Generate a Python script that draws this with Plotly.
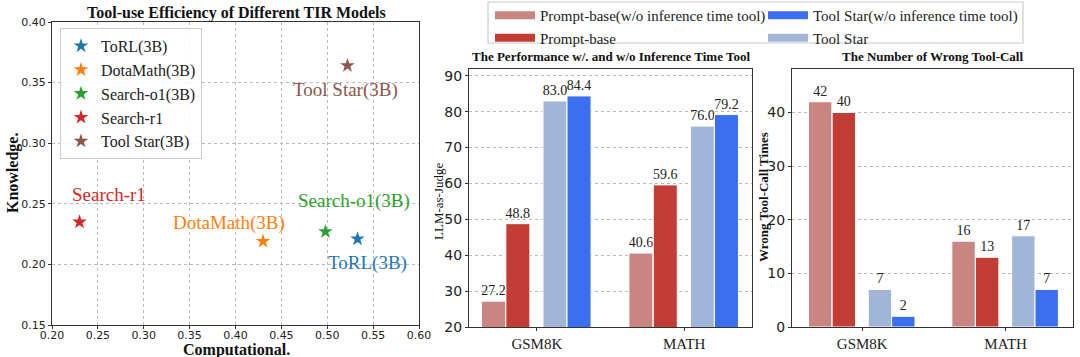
import plotly.graph_objects as go

# ---------------- data ----------------
models = ["ToRL(3B)", "DotaMath(3B)", "Search-o1(3B)", "Search-r1", "Tool Star(3B)"]
computational = [0.533, 0.430, 0.498, 0.230, 0.522]
knowledge = [0.221, 0.219, 0.227, 0.235, 0.364]

datasets = ["GSM8K", "MATH"]
bar_series = ["Prompt-base(w/o inference time tool)", "Prompt-base", "Tool Star", "Tool Star(w/o inference time tool)"]
perf_values = [
    [27.2, 40.6],
    [48.8, 59.6],
    [83.0, 76.0],
    [84.4, 79.2],
]
wrong_calls = [
    [42, 16],
    [40, 13],
    [7, 17],
    [2, 7],
]

# ---------------- styles ----------------
scatter_colors = ["#1f77b4", "#ff7f0e", "#2ca02c", "#d62728", "#8c564b"]
# label anchor (in data coords) for each scatter label
label_anchor = [(0.544, 0.201), (0.393, 0.234), (0.529, 0.252), (0.262, 0.258), (0.520, 0.344)]

bar_colors = ["#c98582", "#c33d37", "#a1b5d6", "#3b6ff0"]
bar_offsets = [-0.375, -0.21, 0.042, 0.205]
bar_width = 0.163
bar_legend = ["legend2", "legend2", "legend3", "legend3"]
legend_rank = [1, 2, 2, 1]

SERIF = "Liberation Serif"
SANS = "DejaVu Sans"
AXCOL = "#333333"
H = 357.0
W = 1080.0

fig = go.Figure()

# scatter
for name, cx, ky, col in zip(models, computational, knowledge, scatter_colors):
    fig.add_trace(go.Scatter(
        x=[cx], y=[ky], mode="markers", name=name,
        marker=dict(symbol="star", size=11, color=col),
        xaxis="x", yaxis="y", legend="legend",
    ))
annotations = []
for name, col, (lx, ly) in zip(models, scatter_colors, label_anchor):
    annotations.append(dict(x=lx, y=ly, xref="x", yref="y", text=name, showarrow=False,
                            font=dict(family=SERIF, size=19, color=col)))

# bars
for i, name in enumerate(bar_series):
    common = dict(
        x=datasets, name=name, width=bar_width, offset=bar_offsets[i],
        marker=dict(color=bar_colors[i], line=dict(color="white", width=1)),
        textposition="outside", cliponaxis=False, constraintext="none",
        textfont=dict(family=SERIF, size=14, color="#222"), showlegend=False,
    )
    fig.add_trace(go.Bar(y=perf_values[i], text=[f"{v:.1f}" for v in perf_values[i]],
                         xaxis="x2", yaxis="y2", **common))
    fig.add_trace(go.Bar(y=wrong_calls[i], text=[str(v) for v in wrong_calls[i]],
                         xaxis="x3", yaxis="y3", **common))
    # legend-only proxy giving a wide rectangular swatch like the reference
    fig.add_trace(go.Scatter(x=[None], y=[None], mode="lines", name=name,
                             line=dict(color=bar_colors[i], width=8),
                             xaxis="x2", yaxis="y2", legend=bar_legend[i],
                             legendrank=legend_rank[i], hoverinfo="skip"))

axis_common = dict(showline=True, linecolor=AXCOL, linewidth=1.2, mirror=True,
                   ticks="outside", ticklen=3, tickcolor=AXCOL, zeroline=False)
grid = dict(showgrid=True, gridcolor="#bbbbbb", griddash="dot", gridwidth=1)

def txt(text, x, y, size, bold=True, angle=0, color="#111"):
    return dict(text=f"<b>{text}</b>" if bold else text, x=x / W, y=1 - y / H,
                xref="paper", yref="paper", showarrow=False, xanchor="center", yanchor="middle",
                textangle=angle, font=dict(family=SERIF, size=size, color=color))

annotations += [
    txt("Tool-use Efficiency of Different TIR Models", 236, 13, 16),
    txt("Computational.", 236, 350, 16),
    txt("Knowledge.", 13, 173, 16, angle=-90),
    txt("The Performance w/. and w/o Inference Time Tool", 611, 57, 13),
    txt("LLM-as-Judge", 438, 202, 13, bold=False, angle=-90),
    txt("The Number of Wrong Tool-Call", 932, 57, 13),
    txt("Wrong Tool-Call Times", 763, 197, 13, angle=-90),
]

legend_box_style = dict(bgcolor="rgba(0,0,0,0)", borderwidth=0,
                        font=dict(family=SERIF, size=15, color="#222"), itemwidth=40,
                        tracegroupgap=0, orientation="v", xanchor="left", yanchor="top")

fig.update_layout(
    width=1080, height=357,
    margin=dict(l=0, r=0, t=0, b=0, autoexpand=False),
    plot_bgcolor="white", paper_bgcolor="white",
    font=dict(family=SERIF),
    barmode="overlay",
    showlegend=True,
    xaxis=dict(domain=[52 / W, 419 / W], range=[0.2, 0.6], dtick=0.05, tickformat=".2f",
               tickfont=dict(family=SANS, size=11, color="#222"), ticklabelstandoff=-3,
               anchor="y", **axis_common, **grid),
    yaxis=dict(domain=[1 - 325 / H, 1 - 22 / H], range=[0.15, 0.40], dtick=0.05, tickformat=".2f",
               tickfont=dict(family=SANS, size=11, color="#222"),
               anchor="x", **axis_common, **grid),
    xaxis2=dict(domain=[469 / W, 752 / W], range=[-0.46, 1.46], type="category",
                tickfont=dict(family=SERIF, size=15, color="#222"), showgrid=False,
                anchor="y2", **axis_common),
    yaxis2=dict(domain=[1 - 327 / H, 1 - 69 / H], range=[20, 91.9], dtick=10,
                tickfont=dict(family=SANS, size=14, color="#222"),
                anchor="x2", **axis_common, **grid),
    xaxis3=dict(domain=[792 / W, 1073 / W], range=[-0.49, 1.47], type="category",
                tickfont=dict(family=SERIF, size=15, color="#222"), showgrid=False,
                anchor="y3", **axis_common),
    yaxis3=dict(domain=[1 - 327 / H, 1 - 69 / H], range=[0, 48.1], dtick=10,
                tickfont=dict(family=SANS, size=14, color="#222"),
                anchor="x3", **axis_common, **grid),
    legend=dict(x=60 / W, y=1 - 28 / H, xanchor="left", yanchor="top",
                bgcolor="rgba(255,255,255,0.85)", bordercolor="#cccccc", borderwidth=1,
                font=dict(family=SERIF, size=16, color="#222"), tracegroupgap=0),
    legend2=dict(x=490 / W, y=1 + 1 / H, **legend_box_style),
    legend3=dict(x=763 / W, y=1 + 1 / H, **legend_box_style),
    shapes=[dict(type="rect", xref="paper", yref="paper",
                 x0=488 / W, x1=1023 / W, y0=1 - 43 / H, y1=1 - 2 / H,
                 line=dict(color="#cccccc", width=1.2), fillcolor="rgba(0,0,0,0)", layer="below")],
    annotations=annotations,
)

fig.write_html("out.html", config={"displayModeBar": False},
               post_script="document.body.style.margin='0';document.body.style.padding='0';document.body.style.overflow='hidden';")
